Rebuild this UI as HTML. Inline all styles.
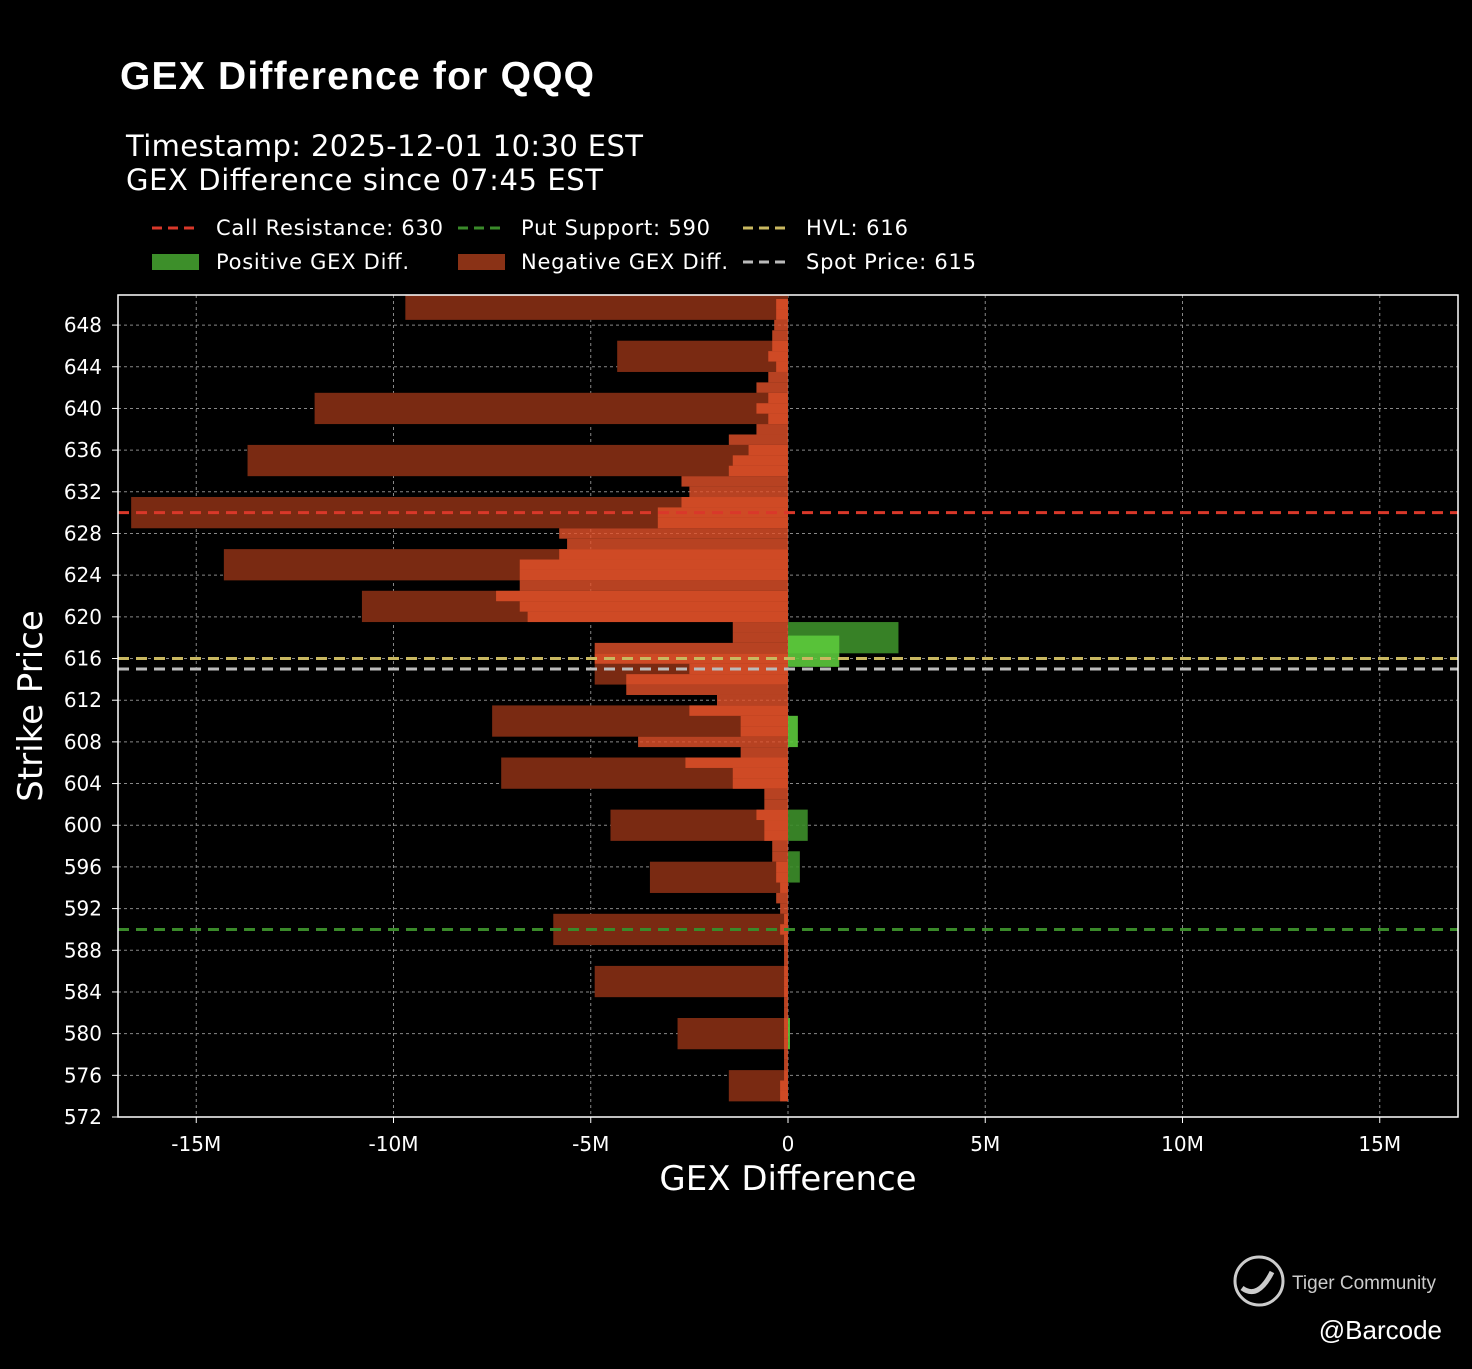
<!DOCTYPE html>
<html><head><meta charset="utf-8">
<style>
html,body{margin:0;padding:0;background:#000;}
body{width:1472px;height:1364px;overflow:hidden;font-family:"Liberation Sans","DejaVu Sans",sans-serif;}
svg text{font-family:"DejaVu Sans","Liberation Sans",sans-serif;}
</style></head>
<body>
<svg id="chart" width="1472" height="1364" xmlns="http://www.w3.org/2000/svg">
<defs><clipPath id="pc"><rect x="118" y="295" width="1340" height="822"/></clipPath></defs>
<rect width="1472" height="1364" fill="#000"/>
<text x="120" y="89" fill="#fff" font-size="39" font-weight="bold" textLength="474" style="font-family:'Liberation Sans',sans-serif">GEX Difference for QQQ</text>
<text x="126" y="156" fill="#fff" font-size="29" textLength="517">Timestamp: 2025-12-01 10:30 EST</text>
<text x="126" y="190" fill="#fff" font-size="29" textLength="477">GEX Difference since 07:45 EST</text>
<g id="legend" font-size="21" fill="#fff">
 <line x1="152" y1="228" x2="200" y2="228" stroke="#d9382a" stroke-width="3" stroke-dasharray="10,6"/>
 <text x="216" y="235" textLength="227">Call Resistance: 630</text>
 <line x1="458" y1="228" x2="506" y2="228" stroke="#3a8a2a" stroke-width="3" stroke-dasharray="10,6"/>
 <text x="521" y="235" textLength="189">Put Support: 590</text>
 <line x1="743" y1="228" x2="791" y2="228" stroke="#c9b860" stroke-width="3" stroke-dasharray="10,6"/>
 <text x="806" y="235" textLength="102">HVL: 616</text>
 <rect x="152" y="254" width="47" height="16" fill="#3d8f2a"/>
 <text x="216" y="269" textLength="193">Positive GEX Diff.</text>
 <rect x="458" y="254" width="47" height="16" fill="#8a3216"/>
 <text x="521" y="269" textLength="207">Negative GEX Diff.</text>
 <line x1="743" y1="262" x2="791" y2="262" stroke="#bbbbbb" stroke-width="3" stroke-dasharray="10,6"/>
 <text x="806" y="269" textLength="170">Spot Price: 615</text>
</g>
<g id="plot"></g>
<text x="788" y="1190" fill="#fff" font-size="34" text-anchor="middle">GEX Difference</text>
<text transform="translate(42,706) rotate(-90)" fill="#fff" font-size="34" text-anchor="middle">Strike Price</text>
<g>
 <circle cx="1259" cy="1281" r="24" fill="none" stroke="#ccc" stroke-width="3"/>
 <path d="M1242 1288 Q1258 1300 1272 1272" fill="none" stroke="#ccc" stroke-width="5"/>
 <text x="1292" y="1289" fill="#ccc" font-size="19" style="font-family:'Liberation Sans',sans-serif">Tiger Community</text>
</g>
<text x="1442" y="1339" fill="#fff" font-size="26" text-anchor="end" style="font-family:'Liberation Sans',sans-serif">@Barcode</text>
</svg>
<script>
const darkStrikes=[650,645,640,635,630,625,621,615,610,605,600,595,590,585,580,575];
const darkValues=[-9.7,-4.33,-12.0,-13.7,-16.65,-14.3,-10.8,-4.9,-7.5,-7.27,-4.5,-3.5,-5.95,-4.9,-2.8,-1.5];
const brightStrikes=[650,649,648,647,646,645,644,643,642,641,640,639,638,637,636,635,634,633,632,631,630,629,628,627,626,625,624,623,622,621,620,619,618,617,616,615,614,613,612,611,610,609,608,607,606,605,604,603,602,601,600,599,598,597,596,595,594,593,592,591,590,589,588,587,586,585,584,583,582,581,580,579,578,577,576,575,574];
const brightValues=[-0.3,-0.3,-0.35,-0.4,-0.4,-0.5,-0.3,-0.5,-0.8,-0.5,-0.8,-0.5,-0.8,-1.5,-1.0,-1.4,-1.5,-2.7,-2.5,-2.7,-3.3,-3.3,-5.8,-5.6,-5.8,-6.8,-6.8,-6.8,-7.4,-6.8,-6.6,-1.4,-1.4,-4.9,-4.9,-2.5,-4.1,-4.1,-1.8,-2.5,-1.2,-1.2,-3.8,-1.2,-2.6,-1.4,-1.4,-0.6,-0.6,-0.8,-0.6,-0.6,-0.4,-0.4,-0.3,-0.3,-0.2,-0.3,-0.2,-0.1,-0.2,-0.1,-0.1,-0.1,-0.1,-0.1,-0.1,-0.1,-0.1,-0.1,-0.1,-0.1,-0.1,-0.1,-0.1,-0.2,-0.2];
const posStrikes=[618,616.7,609,600,596,580];
const posValues=[2.8,1.3,0.25,0.5,0.3,0.05];
const posColors=["#3d8f2a","#5cc93c","#5cc93c","#3d8f2a","#3d8f2a","#5cc93c"];
const xTicks=[-15,-10,-5,0,5,10,15];
const xTickLabels=["-15M","-10M","-5M","0","5M","10M","15M"];
const yTicks=[572,576,580,584,588,592,596,600,604,608,612,616,620,624,628,632,636,640,644,648];
const refValues=[630,590,616,615];
const refColors=["#d9382a","#3a8a2a","#c9b860","#bbbbbb"];
const refNames=["call-resistance-line","put-support-line","hvl-line","spot-price-line"];

const L=118,R=1458,T=295,B=1117;
const x=v=>788+v*39.45;
const y=s=>1117-(s-572)*10.42;
const NS="http://www.w3.org/2000/svg";
const plot=document.getElementById('plot');
function mk(tag,attrs,parent){const e=document.createElementNS(NS,tag);for(const k in attrs)e.setAttribute(k,attrs[k]);(parent||plot).appendChild(e);return e;}
xTicks.forEach((t,i)=>{
 const g=mk('line',{x1:x(t),x2:x(t),y1:T,y2:B,stroke:'#888','stroke-width':1,'stroke-dasharray':'3,3'});
 
 
 mk('line',{x1:x(t),x2:x(t),y1:B,y2:B+6,stroke:'#fff'});
 const tx=mk('text',{x:x(t),y:B+34,fill:'#fff','font-size':20,'text-anchor':'middle'});
 tx.textContent=xTickLabels[i];
 
 
});
yTicks.forEach(t=>{
 const g=mk('line',{x1:L,x2:R,y1:y(t),y2:y(t),stroke:'#888','stroke-width':1,'stroke-dasharray':'3,3'});
 
 
 mk('line',{x1:L-6,x2:L,y1:y(t),y2:y(t),stroke:'#fff'});
 const tx=mk('text',{x:L-16,y:y(t)+7,fill:'#fff','font-size':20,'text-anchor':'end'});
 tx.textContent=t;
 
 
});
const bars=mk('g',{'clip-path':'url(#pc)'});
const h=10.42;
darkStrikes.forEach((s,i)=>{
 const v=darkValues[i];
 const r=mk('rect',{x:x(v),y:y(s)-1.5*h,width:x(0)-x(v),height:3*h,fill:'#7a2a12'},bars);
 
 
});
brightStrikes.forEach((s,i)=>{
 const v=brightValues[i];
 const r=mk('rect',{x:x(v),y:y(s)-0.5*h,width:x(0)-x(v),height:h,fill:'#e5532a','fill-opacity':0.8},bars);
 
 
});
posStrikes.forEach((s,i)=>{
 const v=posValues[i];
 const hh=3*h;
 const r=mk('rect',{x:x(0),y:y(s)-hh/2,width:x(v)-x(0),height:hh,fill:posColors[i],'fill-opacity':0.9},bars);
 
 
});
refValues.forEach((v,i)=>{
 const l=mk('line',{x1:L,x2:R,y1:y(v),y2:y(v),stroke:refColors[i],'stroke-width':3,'stroke-dasharray':'11,7'});
 
 
});
const fr=mk('rect',{x:L,y:T,width:R-L,height:B-T,fill:'none',stroke:'#fff','stroke-width':1.5});


</script>
</body></html>
